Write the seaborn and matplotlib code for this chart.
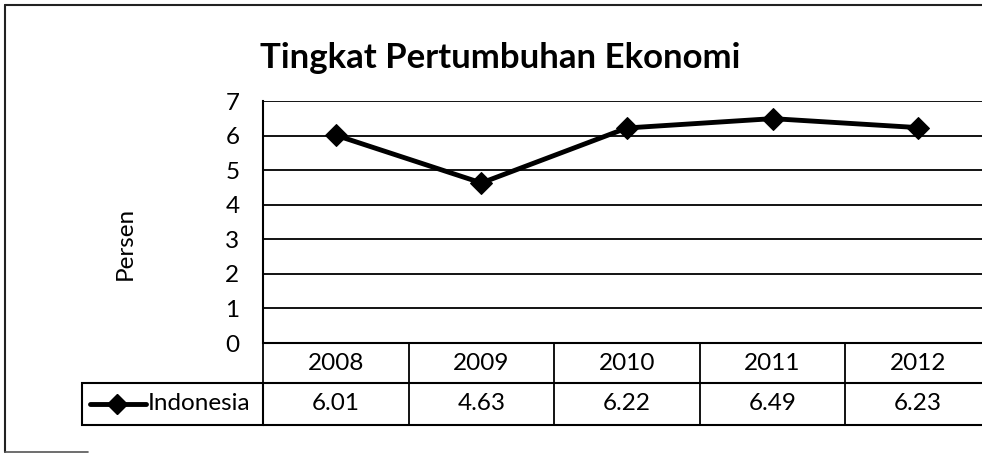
import matplotlib
matplotlib.use("Agg")
import matplotlib.pyplot as plt
import matplotlib.transforms as mtransforms
from matplotlib.lines import Line2D
from matplotlib.patches import Rectangle
import seaborn as sns
import pandas as pd

years = ["2008", "2009", "2010", "2011", "2012"]
values = [6.01, 4.63, 6.22, 6.49, 6.23]
value_labels = ["6.01", "4.63", "6.22", "6.49", "6.23"]
series_name = "Indonesia"
title = "Tingkat Pertumbuhan Ekonomi"
ylabel = "Persen"
yticks = [0, 1, 2, 3, 4, 5, 6, 7]

sns.set_theme(style="white")
plt.rcParams["font.family"] = ["Lato", "DejaVu Sans"]

df = pd.DataFrame({"Tahun": years, "Persen": values})

W, H = 982, 455
FS = 17.5
fig = plt.figure(figsize=(W / 100, H / 100), dpi=100)
fig.patch.set_facecolor("white")

left_px, right_px, top_px, bot_px = 263, 991, 101, 343
ax = fig.add_axes([left_px / W, (H - bot_px) / H, (right_px - left_px) / W, (bot_px - top_px) / H])

sns.lineplot(data=df, x="Tahun", y="Persen", ax=ax, color="black", linewidth=3.5,
             marker="D", markersize=11, markeredgecolor="black", markerfacecolor="black",
             sort=False, zorder=5)

ax.set_xlim(-0.5, len(years) - 0.5)
ax.set_ylim(0, 7)
ax.set_yticks(yticks)
ax.set_yticklabels([str(t) for t in yticks], fontsize=FS)
ax.tick_params(axis="y", length=0, pad=17)
ax.set_xticks([])
ax.set_xlabel("")
ax.set_ylabel(ylabel, fontsize=FS)
ax.yaxis.set_label_coords((136 - left_px) / (right_px - left_px),
                          (bot_px - 243) / (bot_px - top_px))
ax.yaxis.label.set_color("black")
for lab in ax.get_yticklabels():
    lab.set_color("black")

ax.grid(axis="y", color="black", linewidth=1.3)
for s in ["top", "right", "bottom"]:
    ax.spines[s].set_visible(False)
ax.spines["left"].set_color("black")
ax.spines["left"].set_linewidth(1.5)

# data table under the axis
trans = mtransforms.blended_transform_factory(ax.transData, ax.transAxes)
ph = bot_px - top_px
r1 = -(383 - bot_px) / ph
r2 = -(425 - bot_px) / ph
for y in [0, r1, r2]:
    ax.add_line(Line2D([-0.5, len(years) - 0.5], [y, y], transform=trans, color="black",
                       linewidth=1.5, clip_on=False))
for i in range(len(years) + 1):
    ax.add_line(Line2D([i - 0.5, i - 0.5], [0, r2], transform=trans, color="black",
                       linewidth=1.3, clip_on=False))
for i, (yr, vl) in enumerate(zip(years, value_labels)):
    ax.text(i, r1 / 2, yr, transform=trans, ha="center", va="center", fontsize=FS, color="black")
    ax.text(i, (r1 + r2) / 2, vl, transform=trans, ha="center", va="center", fontsize=FS, color="black")

# row-label cell with legend key
ft = fig.transFigure
x0, x1 = 82 / W, left_px / W
ya, yb = (H - 383) / H, (H - 425) / H
fig.add_artist(Rectangle((x0, yb), x1 - x0, ya - yb, transform=ft, fill=False,
                         edgecolor="black", linewidth=1.5))
ym = (ya + yb) / 2
fig.add_artist(Line2D([90 / W, 146 / W], [ym, ym], transform=ft, color="black", linewidth=3.5))
fig.add_artist(Line2D([117 / W], [ym], transform=ft, color="black", marker="D", markersize=10))
fig.text(148 / W, ym, series_name, ha="left", va="center", fontsize=FS, color="black")

# title
fig.text(500 / W, (H - 58) / H, title, ha="center", va="center", fontsize=25,
         fontweight="bold", color="black")

# outer chart border (top, left, bottom; right side cut off)
bx, bt, bb = 5 / W, (H - 5) / H, (H - 452) / H
fig.add_artist(Line2D([bx, 1.0], [bt, bt], transform=ft, color="#222222", linewidth=1.5))
fig.add_artist(Line2D([bx, bx], [bt, bb], transform=ft, color="#222222", linewidth=1.5))
fig.add_artist(Line2D([bx, 0.09], [bb, bb], transform=ft, color="#555555", linewidth=1.2))

fig.savefig("out.png", dpi=100, facecolor="white")
